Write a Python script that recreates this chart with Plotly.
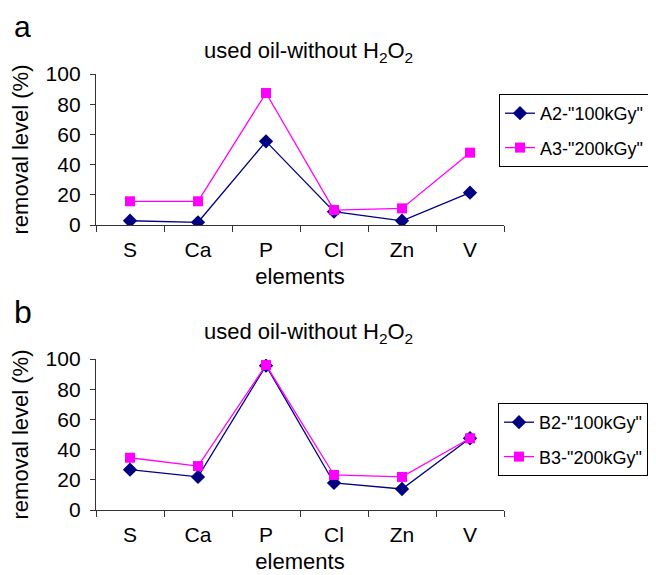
import plotly.graph_objects as go

elements = ["S", "Ca", "P", "Cl", "Zn", "V"]
a_100 = [2.8, 1.8, 55.4, 8.8, 2.8, 21.4]
a_200 = [15.7, 15.7, 87.4, 9.9, 11.0, 47.9]
b_100 = [26.7, 21.9, 95.6, 17.9, 13.9, 47.5]
b_200 = [34.6, 29.1, 96.0, 23.2, 21.9, 47.5]

names_a = ['A2-"100kGy"', 'A3-"200kGy"']
names_b = ['B2-"100kGy"', 'B3-"200kGy"']
title_text = "used oil-without H<sub>2</sub>O<sub>2</sub>"

FONT = "Arial, Liberation Sans, sans-serif"
NAVY = "#000080"
MAG = "#FF00FF"
# page has an 8px body margin; figure coordinates = page coordinates - 8
OFF = 8
W, H = 656 - OFF, 575 - OFF

fig = go.Figure()

def add(x, y, name, color, symbol, xa, ya, legend, group):
    fig.add_trace(go.Scatter(
        x=x, y=y, name=name, mode="lines+markers",
        line=dict(color=color, width=1.3),
        marker=dict(color=color, symbol=symbol, size=10 if symbol == "square" else 11),
        xaxis=xa, yaxis=ya, legend=legend, legendgroup=group,
    ))

add(elements, a_100, names_a[0], NAVY, "diamond", "x", "y", "legend", "a1")
add(elements, a_200, names_a[1], MAG, "square", "x", "y", "legend", "a2")
add(elements, b_100, names_b[0], NAVY, "diamond", "x2", "y2", "legend2", "b1")
add(elements, b_200, names_b[1], MAG, "square", "x2", "y2", "legend2", "b2")

def ydom(top, bottom):
    return [1 - (bottom - OFF) / H, 1 - (top - OFF) / H]

L = 96 - OFF
PW = 504 - 96

xcommon = dict(
    type="category", range=[-0.5, 5.5], tickson="boundaries", ticks="outside",
    ticklen=6, tickcolor="#333", showline=True, linecolor="#333", linewidth=1.3,
    showgrid=False, zeroline=False, automargin=False, ticklabelstandoff=6,
    tickfont=dict(size=21, family=FONT, color="black"),
    title=dict(text="elements", font=dict(size=22, family=FONT, color="black"), standoff=8),
)
ycommon = dict(
    range=[0, 100], dtick=20, ticks="outside", ticklen=5, tickcolor="#333",
    showline=True, linecolor="#333", linewidth=1.3, showgrid=False, zeroline=False,
    automargin=False, ticklabelstandoff=5, tickfont=dict(size=21, family=FONT, color="black"),
    title=dict(text="removal level (%)", font=dict(size=22, family=FONT, color="black"), standoff=12),
)

legcommon = dict(
    xref="container", yref="container", xanchor="left", yanchor="top",
    bordercolor="black", borderwidth=1, bgcolor="white",
    font=dict(size=18, family=FONT, color="black"),
    traceorder="grouped", tracegroupgap=8, itemwidth=30,
)

fig.update_layout(
    width=W, height=H, plot_bgcolor="white", paper_bgcolor="white",
    margin=dict(l=L, r=W - L - PW, t=0, b=0, autoexpand=False),
    font=dict(family=FONT, color="black"),
    xaxis=dict(domain=[0, 1], anchor="y", **xcommon),
    yaxis=dict(domain=ydom(74, 225), anchor="x", **ycommon),
    xaxis2=dict(domain=[0, 1], anchor="y2", **xcommon),
    yaxis2=dict(domain=ydom(359, 510), anchor="x2", **ycommon),
    legend=dict(x=(499 - OFF) / W, y=1 - (94 - OFF) / H, **legcommon),
    legend2=dict(x=(498 - OFF) / W, y=1 - (403 - OFF) / H, **legcommon),
    showlegend=True,
)

# panel letters
fig.add_annotation(text="a", xref="paper", yref="paper", x=(12 - 96) / PW, y=1.0,
                   xanchor="left", yanchor="top", showarrow=False,
                   font=dict(size=30, family=FONT, color="black"))
fig.add_annotation(text="b", xref="paper", yref="paper", x=(12 - 96) / PW,
                   y=1 - (312 - OFF) / H, xanchor="left", yanchor="middle", showarrow=False,
                   font=dict(size=32, family=FONT, color="black"))

for ytitle in (52, 333):
    fig.add_annotation(text=title_text, xref="paper", yref="paper", x=(308 - 96) / PW,
                       y=1 - (ytitle - OFF) / H, xanchor="center", yanchor="middle",
                       showarrow=False, font=dict(size=22, family=FONT, color="black"))

fig.write_html("out.html")
